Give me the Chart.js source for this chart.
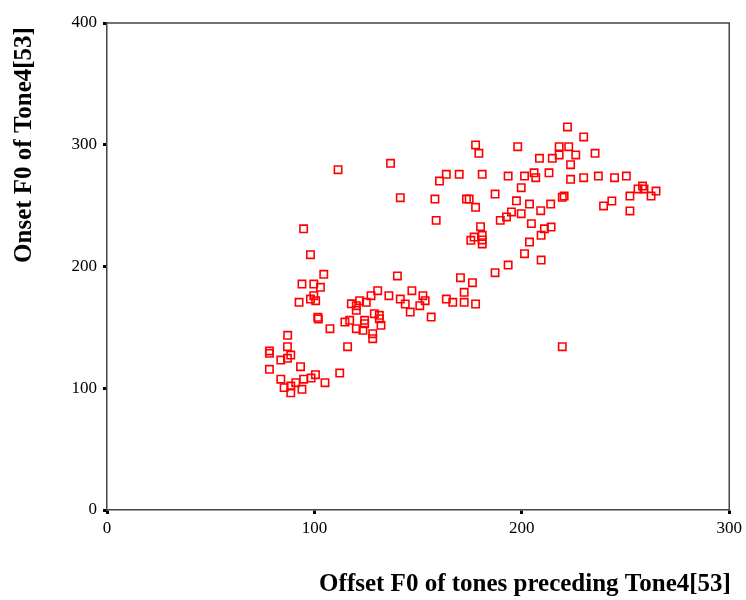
<!DOCTYPE html>
<html>
<head>
<meta charset="utf-8">
<script src="https://cdn.jsdelivr.net/npm/chart.js@4/dist/chart.umd.min.js"></script>
<style>
  html, body { margin: 0; padding: 0; background: #fff; }
  #wrap { width: 746px; height: 600px; }
</style>
</head>
<body>
<div id="wrap"><canvas id="c" width="746" height="600"></canvas></div>
<script>
// Offset F0 of tones preceding Tone4[53] (x values)
const offsetF0 = [
  177.7, 179.3, 111.4, 136.7, 163.6, 160.3, 169.8, 180.9, 187.1, 141.4,
  158.1, 173.3, 174.6, 177.7, 158.7, 189.6, 94.8, 180.1, 177.0, 175.4,
  180.9, 180.9, 180.9, 98.1, 187.1, 104.5, 94.0, 99.7, 102.9, 140.0,
  170.4, 176.2, 172.2, 92.6, 98.1, 99.7, 100.6, 101.6, 101.9, 107.5,
  87.1, 117.8, 121.8, 120.2, 125.0, 120.2, 127.3, 130.5, 135.9, 141.4,
  143.8, 146.2, 147.0, 152.3, 153.4, 150.8, 163.6, 166.7, 172.2, 177.7,
  156.3, 128.9, 131.3, 131.3, 132.1, 114.7, 117.0, 124.2, 124.2, 120.2,
  123.4, 128.1, 128.1, 116.0, 87.0, 78.3, 78.3, 88.6, 87.0, 83.8,
  78.3, 93.3, 83.8, 85.4, 88.6, 88.6, 91.0, 94.8, 94.0, 98.4,
  100.5, 105.1, 112.2, 219.5, 222.0, 229.8, 198.0, 218.0, 222.6, 218.0,
  226.0, 235.3, 208.5, 214.7, 223.5, 193.4, 201.3, 205.9, 206.7, 213.1,
  223.5, 229.8, 236.9, 244.7, 250.4, 199.7, 197.4, 203.7, 213.9, 209.1,
  195.0, 192.6, 199.7, 219.5, 220.4, 258.2, 256.0, 258.9, 264.7, 262.3,
  252.1, 243.4, 239.4, 252.1, 204.6, 210.9, 214.1, 209.3, 203.7, 201.3,
  209.3, 193.4
];
// Onset F0 of Tone4[53] (y values)
const onsetF0 = [
  299.8, 293.0, 279.5, 284.8, 275.7, 270.2, 275.7, 275.7, 259.5, 256.5,
  255.4, 255.4, 255.4, 248.6, 237.9, 237.9, 231.0, 232.7, 224.2, 221.5,
  225.6, 221.8, 218.5, 209.7, 194.9, 193.6, 185.6, 185.6, 182.9, 192.2,
  190.8, 186.7, 178.8, 170.6, 173.3, 176.0, 171.9, 158.3, 156.9, 148.9,
  143.5, 169.4, 171.9, 167.8, 170.6, 164.0, 176.0, 180.1, 176.0, 173.3,
  169.2, 162.6, 180.1, 176.0, 171.9, 167.8, 173.3, 170.6, 170.6, 169.2,
  158.5, 161.2, 159.9, 157.1, 151.7, 154.4, 155.8, 155.8, 153.0, 148.9,
  147.6, 144.8, 140.7, 134.1, 134.1, 130.6, 128.7, 127.3, 124.6, 123.2,
  115.6, 117.7, 107.4, 100.5, 101.8, 96.3, 104.6, 107.4, 99.1, 108.4,
  111.1, 104.6, 112.5, 134.1, 314.6, 306.4, 298.4, 298.4, 298.4, 291.6,
  291.6, 293.0, 288.9, 288.9, 283.6, 274.3, 274.3, 277.0, 272.9, 277.0,
  271.6, 272.9, 274.3, 272.9, 274.3, 264.7, 254.0, 251.3, 251.3, 245.8,
  244.8, 240.7, 243.4, 256.8, 257.9, 266.1, 263.7, 263.7, 262.0, 257.9,
  257.9, 253.8, 249.7, 245.6, 235.2, 231.0, 232.4, 225.6, 220.1, 210.5,
  205.3, 201.2
];
const xTickValues = [0, 100, 200, 300];
const yTickValues = [0, 100, 200, 300, 400];
const xTitle = 'Offset F0 of tones preceding Tone4[53]';
const yTitle = 'Onset F0 of Tone4[53]';

const points = offsetF0.map((x, i) => ({ x: x, y: onsetF0[i] }));

const framePlugin = {
  id: 'frame',
  beforeDatasetsDraw(chart) {
    const { ctx, chartArea: a } = chart;
    ctx.save();
    ctx.strokeStyle = '#444';
    ctx.lineWidth = 1.5;
    ctx.beginPath();
    ctx.moveTo(a.left, a.top);
    ctx.lineTo(a.right, a.top);
    ctx.lineTo(a.right, a.bottom);
    ctx.stroke();
    ctx.restore();
  }
};

const titlePlugin = {
  id: 'titles',
  afterDraw(chart) {
    const ctx = chart.ctx;
    ctx.save();
    ctx.fillStyle = '#000';
    ctx.font = 'bold 25px "Liberation Serif"';
    ctx.textAlign = 'center';
    ctx.textBaseline = 'middle';
    ctx.fillText(xTitle, 525, 585);
    ctx.translate(25, 145);
    ctx.rotate(-Math.PI / 2);
    ctx.fillText(yTitle, 0, 0);
    ctx.restore();
  }
};

new Chart(document.getElementById('c'), {
  type: 'scatter',
  data: {
    datasets: [{
      data: points,
      pointStyle: 'rect',
      radius: 5.2,
      borderColor: '#ff0000',
      backgroundColor: 'rgba(255,255,255,0)',
      borderWidth: 1.6
    }]
  },
  options: {
    responsive: false,
    animation: false,
    layout: { padding: { top: 23, right: 16, bottom: 0, left: 0 } },
    plugins: { legend: { display: false }, tooltip: { enabled: false } },
    scales: {
      x: {
        type: 'linear',
        min: 0, max: 300,
        afterBuildTicks: s => { s.ticks = xTickValues.map(v => ({ value: v })); },
        afterFit: s => { s.height = 90; },
        ticks: { color: '#000', padding: 4, font: { family: 'Liberation Serif', size: 17 } },
        grid: { drawOnChartArea: false, drawTicks: true, tickLength: 4, tickWidth: 3, tickColor: '#000' },
        border: { display: true, color: '#444', width: 1.5 }
      },
      y: {
        type: 'linear',
        min: 0, max: 400,
        afterBuildTicks: s => { s.ticks = yTickValues.map(v => ({ value: v })); },
        afterFit: s => { s.width = 107; },
        ticks: { color: '#000', padding: 6, font: { family: 'Liberation Serif', size: 17 } },
        grid: { drawOnChartArea: false, drawTicks: true, tickLength: 4, tickWidth: 3, tickColor: '#000' },
        border: { display: true, color: '#444', width: 1.5 }
      }
    }
  },
  plugins: [framePlugin, titlePlugin]
});
</script>
</body>
</html>
